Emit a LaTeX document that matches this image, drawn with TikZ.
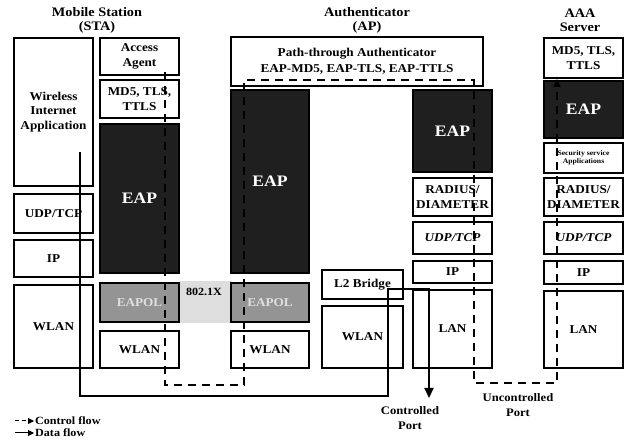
\documentclass[tikz,border=0pt]{standalone}
\usepackage{fontspec}
\setmainfont{Liberation Serif}[FakeStretch=1.1]
\usetikzlibrary{arrows.meta}

% one protocol layer, given by its corners (x1,y1)-(x2,y2) in pixels
\newcommand{\StackLayer}[6][layer]{%
    \node[#1, minimum width={#4-#2}, minimum height={#5-#3}] (#6) at ({(#2+#4)/2},{(#3+#5)/2})%
}

\tikzset{
    layer/.style={draw, line width=1.1pt, inner sep=1pt, align=center,
        font=\fontsize{12}{14.5}\selectfont\bfseries},
    eapbox/.style={layer, fill=black!88, text=white,
        font=\fontsize{16}{18}\selectfont\bfseries},
    eapolbox/.style={layer, fill=black!42, text=black!12,
        font=\fontsize{12}{14}\selectfont\bfseries},
    tinybox/.style={layer, font=\fontsize{7}{8.5}\selectfont\bfseries},
    heading/.style={align=center, font=\fontsize{13}{14}\selectfont\bfseries},
    portlabel/.style={align=center, font=\fontsize{11.5}{15}\selectfont\bfseries},
    legendtext/.style={anchor=west, inner sep=1pt, font=\fontsize{11}{12}\selectfont\bfseries},
    dataflow/.style={line width=2.2pt, -{Triangle[length=10pt,width=9pt]}},
    ctrlflow/.style={line width=2pt, dash pattern=on 8pt off 6pt,
        -{Triangle[length=8pt,width=7pt]}}
}

\begin{document}
\begin{tikzpicture}[x=1pt, y=-1pt]
    \useasboundingbox (0,0) rectangle (624,443);

    % headings
    \node[heading] (sta) at (97,20) {Mobile Station\\(STA)};
    \node[heading] (ap)  at (367,20) {Authenticator\\(AP)};
    \node[heading] (aaa) at (580,20) {AAA\\Server};

    % 802.1X link between the two EAPOL layers
    \fill[black!13] (179,281) rectangle (232,323);
    \node[font=\fontsize{11}{12}\selectfont\bfseries, inner sep=0pt] (dot1x) at (204,292) {802.1X};

    % Mobile Station, application side
    \StackLayer{14}{38}{93}{186}{wia} {Wireless\\Internet\\Application};
    \StackLayer{14}{194}{93}{233}{udpA} {UDP/TCP};
    \StackLayer{14}{240}{93}{277}{ipA} {IP};
    \StackLayer{14}{285}{93}{368}{wlanA} {WLAN};

    % Mobile Station, supplicant side
    \StackLayer{100}{38}{179}{75}{agent} {Access\\Agent};
    \StackLayer{100}{80}{179}{118}{methB} {MD5, TLS,\\TTLS};
    \StackLayer[eapbox]{100}{124}{179}{273}{eapB} {EAP};
    \StackLayer[eapolbox]{100}{283}{179}{322}{eapolB} {EAPOL};
    \StackLayer{100}{331}{179}{368}{wlanB} {WLAN};

    % Authenticator
    \StackLayer{231}{37}{483}{86}{pta} {Path-through Authenticator\\[2pt]EAP-MD5, EAP-TLS, EAP-TTLS};
    \StackLayer[eapbox]{231}{90}{309}{273}{eapC} {EAP};
    \StackLayer[eapolbox]{231}{283}{309}{322}{eapolC} {EAPOL};
    \StackLayer{231}{331}{309}{368}{wlanC} {WLAN};
    \StackLayer{322}{270}{403}{299}{bridge} {L2 Bridge};
    \StackLayer{322}{306}{403}{368}{wlanD} {WLAN};
    \StackLayer[eapbox]{413}{90}{492}{172}{eapE} {EAP};
    \StackLayer{413}{178}{492}{216}{radE} {RADIUS/\\DIAMETER};
    \StackLayer{413}{222}{492}{254}{udpE} {\itshape UDP/TCP};
    \StackLayer{413}{261}{492}{283}{ipE} {IP};
    \StackLayer{413}{290}{492}{368}{lanE} {LAN};

    % AAA Server
    \StackLayer{544}{38}{623}{78}{methF} {MD5, TLS,\\TTLS};
    \StackLayer[eapbox]{544}{81}{623}{138}{eapF} {EAP};
    \StackLayer[tinybox]{544}{143}{623}{173}{secF} {Security service\\Applications};
    \StackLayer{544}{178}{623}{216}{radF} {RADIUS/\\DIAMETER};
    \StackLayer{544}{222}{623}{254}{udpF} {\itshape UDP/TCP};
    \StackLayer{544}{261}{623}{284}{ipF} {IP};
    \StackLayer{544}{291}{623}{368}{lanF} {LAN};

    % data flow path
    \coordinate (dSrc) at (80,152);
    \coordinate (dLow) at (388,396);
    \coordinate (dBrL) at (388,289);
    \coordinate (dBrR) at (429,289);
    \coordinate (dOut) at (429,398);
    \draw[dataflow] (dSrc) |- (dLow) -- (dBrL) -- (dBrR) -- (dOut);

    % control flow path
    \coordinate (cSrc)  at (165,72);
    \coordinate (cLowB) at (165,385);
    \coordinate (cLowC) at (244,385);
    \coordinate (cTopC) at (244,80);
    \coordinate (cTopE) at (474,80);
    \coordinate (cLowE) at (474,383);
    \coordinate (cLowF) at (557,383);
    \coordinate (cDst)  at (557,79);
    \draw[ctrlflow] (cSrc) -- (cLowB) -- (cLowC) -- (cTopC) -- (cTopE)
        -- (cLowE) -- (cLowF) -- (cDst);

    % ports
    \node[portlabel] (cport) at (410,418) {Controlled\\Port};
    \node[portlabel] (uport) at (518,405) {Uncontrolled\\Port};

    % legend
    \coordinate (lc0) at (15,421);
    \coordinate (lc1) at (34,421);
    \coordinate (ld0) at (15,433);
    \coordinate (ld1) at (34,433);
    \draw[ctrlflow, line width=1pt, dash pattern=on 4pt off 3pt,
        -{Triangle[length=6pt,width=6pt]}] (lc0) -- (lc1);
    \draw[dataflow, line width=1pt, -{Triangle[length=6pt,width=6pt]}] (ld0) -- (ld1);
    \node[legendtext] (lgc) at (lc1) {Control flow};
    \node[legendtext] (lgd) at (ld1) {Data flow};
\end{tikzpicture}
\end{document}
